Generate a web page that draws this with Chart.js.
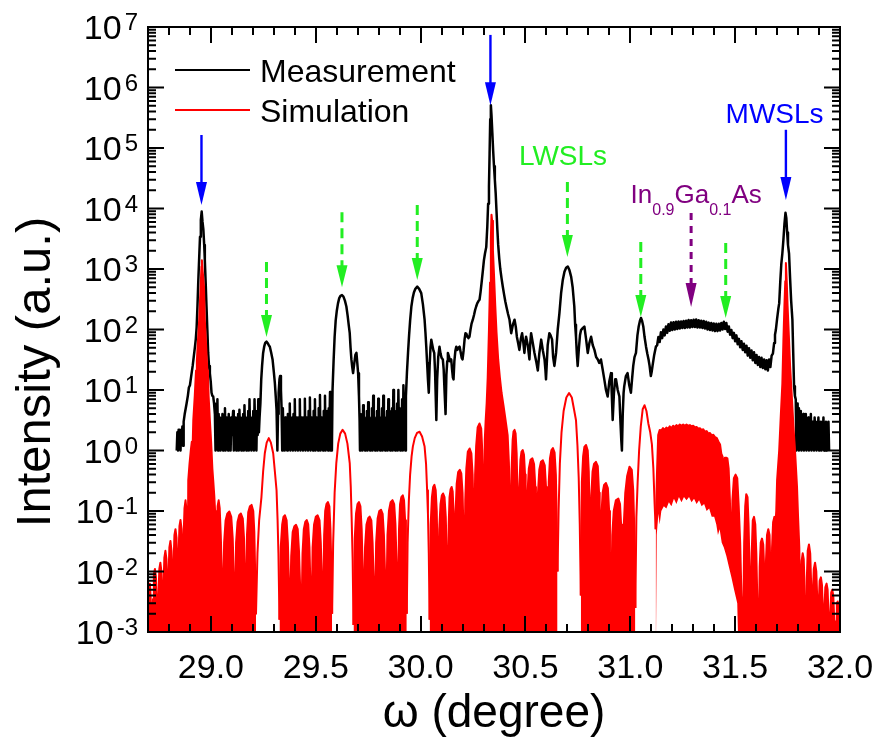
<!DOCTYPE html>
<html><head><meta charset="utf-8">
<script src="https://cdn.jsdelivr.net/npm/chart.js@4.4.1/dist/chart.umd.min.js"></script>
<style>html,body{margin:0;padding:0;background:#fff;}canvas{display:block;}</style>
</head><body>
<canvas id="chart" width="880" height="748"></canvas>
<script>
// ---------- DATA (omega in degree, intensity in a.u.) ----------
const measurement = [
[28.837,1],[28.840,2],[28.843,1],[28.846,2.2],[28.849,1.6],[28.852,2.2],[28.855,1],[28.858,2],[28.861,1.6],[28.864,2.5],[28.867,1.2],
[28.870,3],[28.875,4],[28.880,5],[28.884,6],[28.890,8],[28.895,11],[28.900,12],[28.906,17],[28.913,25],[28.918,35],[28.924,52],[28.928,70],[28.932,110],[28.936,250],[28.940,660],[28.944,1500],[28.948,3400],[28.952,6500],[28.956,8900],[28.960,6000],[28.964,4500],[28.968,2500],[28.971,1400],[28.975,600],[28.979,240],[28.983,100],[28.987,41],[28.991,25],[28.995,19],[28.999,14],[29.003,9],[29.007,8],[29.011,7.8],[29.015,6],[29.019,4],
[29.022,1],[29.025,5],[29.028,2],[29.031,7],[29.034,1],[29.037,4],[29.040,2],[29.043,3.5],[29.046,1],[29.049,3],[29.052,1.8],[29.055,4],[29.058,1],[29.061,3],[29.064,2],[29.067,5],[29.070,1],[29.073,3.5],[29.076,1.8],[29.079,3],[29.082,1],[29.085,4],[29.088,2],[29.091,3],[29.094,1],[29.097,3.5],[29.100,1.8],[29.103,3],[29.106,4.5],[29.109,1],[29.112,3],[29.115,2],[29.118,3.5],[29.121,1],[29.124,3],[29.127,1.8],[29.130,4],[29.133,1],[29.136,4.7],[29.139,2],[29.142,3.5],[29.145,1],[29.148,3],[29.151,1.8],[29.154,4],[29.157,1],[29.160,5.6],[29.163,2],[29.166,3.5],[29.169,1],[29.172,3],[29.175,1.8],[29.178,4.5],[29.181,1],[29.184,7],[29.187,2],[29.190,3.5],[29.193,1],[29.196,3],[29.199,1.8],[29.202,4.5],[29.205,1],[29.208,7],[29.211,2],[29.214,3.5],[29.217,1],[29.220,4.5],[29.223,1.8],[29.226,7],[29.229,2],[29.232,3.5],
[29.236,6],[29.240,15],[29.244,25],[29.249,41],[29.254,52],[29.259,60],[29.265,63],[29.270,60],[29.276,55],[29.281,52],[29.287,42],[29.294,32],[29.300,20],[29.305,13],[29.309,8],[29.313,4.7],
[29.317,1],[29.320,4],[29.323,9],[29.327,15],[29.330,17],[29.334,10],[29.337,5],
[29.340,1],[29.343,5],[29.346,2],[29.349,3],[29.352,1],[29.355,3.5],[29.358,1.8],[29.361,3],[29.364,1],[29.367,4],[29.370,2],[29.373,3.5],[29.376,6],[29.379,1],[29.382,3],[29.385,1.8],[29.388,3.5],[29.391,1],[29.394,4],[29.397,2],[29.400,7],[29.403,1],[29.406,3.5],[29.409,1.8],[29.412,3],[29.415,1],[29.418,3.5],[29.421,2],[29.424,7],[29.427,1],[29.430,3.5],[29.433,1.8],[29.436,3],[29.439,1],[29.442,3.5],[29.445,2],[29.448,7.2],[29.451,1],[29.454,3.5],[29.457,1.8],[29.460,3],[29.463,1],[29.466,4.5],[29.469,2],[29.472,7.5],[29.475,1],[29.478,3.5],[29.481,1.8],[29.484,3],[29.487,1],[29.490,4.5],[29.493,2],[29.496,7],[29.499,1],[29.502,3.5],[29.505,1.8],[29.508,3],[29.511,1],[29.514,5],[29.517,2],[29.520,8.3],[29.523,1],[29.526,3.5],[29.529,1.8],[29.532,3],[29.535,1],[29.538,4.5],[29.541,2],[29.544,8],[29.547,1],[29.550,3.5],[29.553,1.8],[29.556,4.5],[29.559,1],[29.562,5],[29.565,2],[29.568,9.3],[29.571,1],[29.574,4.5],[29.577,1],
[29.580,10],[29.585,30],[29.590,76],[29.595,140],[29.600,200],[29.606,270],[29.612,330],[29.618,360],[29.625,370],[29.632,350],[29.639,300],[29.646,240],[29.652,170],[29.657,120],[29.662,87],[29.666,50],[29.670,32],[29.674,24],[29.678,19],[29.684,28],[29.689,38],[29.694,41],[29.698,28],[29.702,19],[29.706,8],[29.709,3.2],
[29.711,1],[29.714,4],[29.717,2],[29.720,3.5],[29.723,1],[29.726,5.6],[29.729,1.8],[29.732,3.5],[29.735,1],[29.738,3],[29.741,2],[29.744,4.5],[29.747,1],[29.750,6.3],[29.753,1.8],[29.756,3.5],[29.759,1],[29.762,3],[29.765,2],[29.768,5],[29.771,1],[29.774,8],[29.777,1.8],[29.780,3.5],[29.783,1],[29.786,3],[29.789,2],[29.792,4.5],[29.795,1],[29.798,7.2],[29.801,1.8],[29.804,3.5],[29.807,1],[29.810,3.5],[29.813,2],[29.816,5],[29.819,1],[29.822,8],[29.825,1.8],[29.828,3.5],[29.831,1],[29.834,3],[29.837,2],[29.840,4.5],[29.843,1],[29.846,7],[29.849,1.8],[29.852,4.5],[29.855,1],[29.858,3.5],[29.861,2],[29.864,5],[29.867,1],[29.870,10],[29.873,1.8],[29.876,4.5],[29.879,1],[29.882,3.5],[29.885,2],[29.888,6],[29.891,1],[29.894,10],[29.897,2],[29.900,5],[29.903,1],[29.906,4.5],[29.909,2],[29.912,7],[29.915,1],[29.918,12],[29.921,3],[29.924,5],[29.927,1],
[29.930,8],[29.935,20],[29.940,41],[29.945,80],[29.950,140],[29.956,240],[29.962,330],[29.968,410],[29.975,470],[29.984,510],[29.993,470],[30.003,400],[30.011,260],[30.019,145],[30.023,90],[30.027,52],[30.031,28],[30.035,15],[30.039,9],[30.043,25],[30.047,50],[30.051,68],[30.056,55],[30.061,45],[30.065,41],[30.069,20],[30.072,8],[30.075,3.2],[30.079,15],[30.084,35],[30.090,52],[30.095,40],[30.100,34],[30.106,32],[30.110,22],[30.114,10],[30.119,4],[30.123,18],[30.127,30],[30.130,41],[30.135,36],[30.140,30],[30.146,32],[30.150,22],[30.154,16],[30.157,15],[30.161,30],[30.166,45],[30.170,52],[30.175,46],[30.180,50],[30.186,52],[30.191,42],[30.196,34],[30.200,32],[30.205,45],[30.210,70],[30.214,87],[30.218,85],[30.223,76],[30.228,72],[30.233,76],[30.238,100],[30.243,125],[30.249,145],[30.255,175],[30.260,210],[30.265,240],[30.270,270],[30.276,295],[30.281,310],[30.286,420],[30.291,600],[30.297,950],[30.302,1400],[30.307,1800],[30.313,2300],[30.318,5000],[30.322,12000],[30.326,23000],[30.329,80000],[30.332,300000],[30.335,510000],[30.338,350000],[30.342,180000],[30.346,90000],[30.350,50000],[30.354,30000],[30.358,18000],[30.362,9000],[30.366,4500],[30.370,2500],[30.375,1500],[30.380,1000],[30.386,700],[30.392,510],[30.398,380],[30.404,290],[30.410,230],[30.417,180],[30.424,145],
[30.432,87],[30.440,120],[30.448,145],[30.454,110],[30.459,76],[30.465,60],[30.471,46],[30.478,70],[30.484,87],[30.490,60],[30.495,41],[30.499,60],[30.503,76],[30.511,55],[30.519,32],[30.523,60],[30.527,87],[30.535,60],[30.543,41],[30.551,30],[30.559,21],[30.566,40],[30.575,68],[30.583,45],[30.591,32],[30.595,22],[30.598,15],[30.606,55],[30.614,87],[30.620,80],[30.627,68],[30.632,35],[30.638,25],[30.642,32],[30.646,41],[30.654,100],[30.662,186],[30.670,400],[30.678,660],[30.686,900],[30.694,1050],[30.702,1100],[30.710,950],[30.718,740],[30.725,500],[30.733,240],[30.737,120],[30.741,76],[30.745,40],[30.749,25],[30.755,50],[30.760,80],[30.765,98],[30.773,105],[30.781,112],[30.789,70],[30.797,41],[30.805,60],[30.813,76],[30.821,55],[30.829,46],[30.837,35],[30.845,32],[30.852,28],[30.860,32],[30.868,22],[30.876,15],[30.884,10],[30.892,7.8],[30.900,14],[30.908,19],[30.912,8],[30.916,3.2],[30.922,9],[30.928,15],[30.932,15],[30.940,10],[30.948,7.8],[30.953,3],[30.957,1.5],[30.960,1],[30.964,4],[30.968,9],[30.971,11.5],[30.979,17],[30.987,19],[30.995,12],[31.003,9],[31.009,16],[31.014,25],[31.020,35],[31.027,41],[31.034,80],[31.040,112],[31.046,140],[31.051,155],[31.056,140],[31.062,112],[31.068,75],[31.075,52],[31.081,40],[31.087,32],[31.092,25],[31.098,17],[31.102,20],[31.106,25],[31.114,38],[31.122,52],
[31.128,55],[31.134,75],[31.140,62],[31.146,90],[31.152,72],[31.158,100],[31.164,80],[31.170,112],[31.176,88],[31.182,122],[31.188,95],[31.194,130],[31.200,98],[31.206,132],[31.212,100],[31.218,134],[31.224,102],[31.230,136],[31.236,104],[31.242,136],[31.248,106],[31.254,138],[31.260,106],[31.266,140],[31.272,108],[31.278,144],[31.284,108],[31.290,142],[31.296,110],[31.302,145],[31.308,110],[31.314,146],[31.320,108],[31.326,142],[31.332,108],[31.338,140],[31.344,106],[31.350,138],[31.356,104],[31.362,134],[31.368,100],[31.374,130],[31.380,98],[31.386,128],[31.392,96],[31.398,126],[31.404,94],[31.410,124],[31.416,94],[31.422,124],[31.428,96],[31.434,128],[31.440,100],[31.446,134],[31.452,102],[31.458,128],[31.464,92],[31.470,112],[31.476,82],[31.482,98],[31.488,72],[31.494,88],[31.500,64],[31.506,80],[31.512,57],[31.518,70],[31.524,51],[31.530,64],[31.536,46],[31.542,58],[31.548,42],[31.554,54],[31.560,37],[31.566,49],[31.572,34],[31.578,45],[31.584,31],[31.590,42],[31.596,28],[31.602,38],[31.608,26],[31.614,35],[31.620,24],[31.626,34],[31.632,23],[31.638,32],[31.644,22],[31.650,31],[31.656,21],[31.662,32],[31.668,24],[31.674,37],[31.680,40],[31.686,60],[31.690,82],
[31.694,98],[31.700,150],[31.706,220],[31.710,270],[31.715,600],[31.720,1200],[31.725,1800],[31.730,3000],[31.735,5500],[31.740,8500],[31.744,7000],[31.748,4000],[31.752,2500],[31.757,1800],[31.762,700],[31.767,300],[31.773,145],[31.777,40],[31.781,11.5],[31.785,8],[31.789,7],
[31.792,1],[31.795,6],[31.798,2],[31.801,5],[31.804,1],[31.807,4.5],[31.810,2],[31.813,4.5],[31.816,1],[31.819,3.5],[31.822,1.8],[31.825,4],[31.828,1],[31.831,3.5],[31.834,1.8],[31.837,4],[31.840,1],[31.843,3],[31.846,1.8],[31.849,3.5],[31.852,1],[31.855,3],[31.858,1.8],[31.861,4],[31.864,1],[31.867,3],[31.870,1.8],[31.873,3],[31.876,1],[31.879,3.5],[31.882,1.8],[31.885,3],[31.888,1],[31.891,3],[31.894,1.8],[31.897,3.5],[31.900,1],[31.903,3],[31.906,1.7],[31.909,3],[31.912,1],[31.915,2.8],[31.918,1.7],[31.921,3.5],[31.924,1],[31.927,2.8],[31.930,1.7],[31.933,3],[31.936,1],[31.939,2.8],[31.942,1.6],[31.945,3],[31.948,1]
];

const simulation = [
[28.700,4e-3],[28.704,6.3e-3],[28.709,6.3e-3],[28.714,3e-3],[28.719,5e-4],
[28.724,3.5e-3],[28.728,9e-3],[28.733,0.011],[28.738,8e-3],[28.742,3e-3],[28.746,5e-4],
[28.750,4e-3],[28.754,0.011],[28.759,0.014],[28.764,0.01],[28.767,4e-3],[28.770,6e-4],
[28.774,6e-3],[28.778,0.017],[28.783,0.022],[28.788,0.016],[28.791,6e-3],[28.794,5e-4],
[28.798,9e-3],[28.802,0.025],[28.807,0.032],[28.812,0.022],[28.815,8e-3],[28.818,1e-3],
[28.822,0.014],[28.826,0.04],[28.831,0.05],[28.836,0.036],[28.839,0.012],[28.842,1e-3],
[28.846,0.02],[28.850,0.056],[28.855,0.071],[28.860,0.05],[28.863,0.018],[28.866,1.6e-3],
[28.870,0.04],[28.874,0.11],[28.879,0.15],[28.883,0.11],[28.886,0.05],[28.889,4e-3],
[28.892,0.32],[28.898,0.6],[28.904,1],[28.909,1.4],[28.912,0.9],[28.916,3.2],[28.923,8],[28.929,21],[28.933,30],[28.937,56],[28.944,145],[28.951,510],[28.955,1100],[28.957,1400],[28.961,900],[28.967,510],[28.971,145],[28.977,56],[28.983,21],[28.986,18],[28.989,8],[28.995,3.2],[29.000,1.6],[29.003,1],[29.007,0.5],[29.011,0.32],[29.016,0.18],[29.020,0.1],[29.023,0.02],[29.026,2e-3],
[29.029,0.05],[29.032,0.12],[29.037,0.15],[29.042,0.11],[29.047,0.04],[29.052,0.01],[29.057,1.3e-3],
[29.063,0.03],[29.070,0.07],[29.078,0.09],[29.088,0.098],[29.097,0.08],[29.104,0.035],[29.110,7e-3],[29.115,1e-3],
[29.120,0.03],[29.127,0.066],[29.135,0.085],[29.143,0.091],[29.152,0.075],[29.158,0.035],[29.163,7e-3],[29.167,1e-3],
[29.172,0.04],[29.178,0.095],[29.186,0.12],[29.194,0.126],[29.202,0.1],[29.207,0.045],[29.211,0.01],[29.215,2e-3],
[29.222,0.02],[29.230,0.07],[29.241,0.17],[29.249,0.45],[29.257,0.9],[29.266,1.35],[29.276,1.6],[29.286,1.35],[29.297,0.9],[29.305,0.45],[29.313,0.22],[29.318,0.07],[29.322,0.02],[29.327,1.6e-3],
[29.333,0.025],[29.340,0.06],[29.346,0.08],[29.353,0.085],[29.361,0.07],[29.367,0.03],[29.372,6e-3],[29.376,1.3e-3],
[29.383,0.018],[29.390,0.045],[29.398,0.056],[29.406,0.059],[29.414,0.05],[29.420,0.022],[29.426,5e-3],[29.431,1e-3],
[29.437,0.02],[29.443,0.05],[29.450,0.066],[29.457,0.071],[29.464,0.06],[29.470,0.025],[29.475,5e-3],[29.479,1e-3],
[29.485,0.025],[29.492,0.06],[29.500,0.08],[29.509,0.085],[29.518,0.07],[29.524,0.03],[29.530,6e-3],[29.534,1.3e-3],
[29.540,0.04],[29.545,0.1],[29.551,0.13],[29.558,0.141],[29.565,0.12],[29.570,0.05],[29.575,0.01],[29.578,2e-3],
[29.583,0.03],[29.590,0.2],[29.598,0.62],[29.607,1.3],[29.617,1.9],[29.628,2.2],[29.640,1.9],[29.651,1.3],[29.662,0.62],[29.667,0.25],[29.671,0.08],[29.676,0.015],[29.680,1.3e-3],
[29.686,0.035],[29.692,0.09],[29.699,0.13],[29.706,0.141],[29.713,0.12],[29.719,0.05],[29.724,0.01],[29.728,1e-3],
[29.735,0.025],[29.742,0.06],[29.750,0.076],[29.757,0.081],[29.765,0.07],[29.771,0.03],[29.777,6e-3],[29.781,1e-3],
[29.788,0.03],[29.795,0.075],[29.803,0.1],[29.811,0.105],[29.819,0.09],[29.825,0.04],[29.831,8e-3],[29.835,1e-3],
[29.842,0.04],[29.849,0.1],[29.857,0.14],[29.866,0.151],[29.874,0.13],[29.880,0.06],[29.886,0.012],[29.891,1.3e-3],
[29.897,0.05],[29.902,0.13],[29.908,0.17],[29.915,0.182],[29.921,0.15],[29.926,0.07],[29.930,0.015],[29.934,2e-3],
[29.938,0.03],[29.944,0.15],[29.950,0.4],[29.957,0.8],[29.963,1.16],[29.972,1.6],[29.983,1.95],[29.995,2.04],[30.007,1.7],[30.019,1.16],[30.026,0.6],[30.031,0.22],[30.035,0.09],[30.039,0.02],[30.043,1.6e-3],
[30.048,0.06],[30.054,0.17],[30.060,0.25],[30.066,0.27],[30.072,0.22],[30.077,0.1],[30.081,0.015],[30.084,1.3e-3],
[30.089,0.05],[30.095,0.13],[30.101,0.18],[30.107,0.195],[30.114,0.17],[30.120,0.08],[30.125,0.015],[30.129,1.6e-3],
[30.134,0.06],[30.138,0.17],[30.143,0.23],[30.148,0.25],[30.153,0.21],[30.157,0.1],[30.160,0.03],[30.162,8e-3],
[30.167,0.1],[30.172,0.28],[30.179,0.44],[30.187,0.48],[30.194,0.42],[30.200,0.2],[30.205,0.04],[30.209,8e-3],
[30.213,0.15],[30.218,0.5],[30.225,0.95],[30.234,1.08],[30.242,0.9],[30.248,0.4],[30.253,0.08],[30.256,0.025],
[30.260,0.4],[30.265,1.2],[30.272,2.4],[30.281,2.8],[30.289,2.3],[30.294,1],[30.298,0.25],[30.302,0.032],
[30.306,1.5],[30.310,3],[30.315,6],[30.320,16],[30.326,100],[30.331,600],[30.335,3200],[30.338,7900],[30.341,6300],[30.345,2000],[30.350,800],[30.356,250],[30.362,90],[30.370,32],[30.378,16],[30.386,9],[30.395,5.6],[30.405,3.2],[30.415,1.8],[30.421,0.63],[30.426,0.13],[30.430,0.016],
[30.434,0.5],[30.439,1.5],[30.443,2.05],[30.448,2.19],[30.453,1.9],[30.458,0.9],[30.462,0.2],[30.466,0.01],
[30.471,0.25],[30.476,0.7],[30.481,0.95],[30.487,1.02],[30.493,0.85],[30.498,0.4],[30.501,0.08],[30.504,6.3e-3],
[30.510,0.2],[30.516,0.5],[30.524,0.7],[30.533,0.74],[30.541,0.6],[30.547,0.25],[30.550,0.05],[30.553,2.5e-3],
[30.559,0.18],[30.566,0.48],[30.574,0.65],[30.583,0.69],[30.592,0.57],[30.598,0.25],[30.602,0.04],[30.606,1.3e-3],
[30.611,0.3],[30.617,0.75],[30.624,1.02],[30.631,1.1],[30.639,0.92],[30.645,0.4],[30.649,0.08],[30.653,0.01],
[30.658,0.1],[30.664,0.6],[30.672,2],[30.682,4.5],[30.695,7.5],[30.708,8.9],[30.721,7.5],[30.733,4.5],[30.741,3.16],[30.748,1.2],[30.754,0.35],[30.759,0.06],[30.764,4e-3],
[30.769,0.3],[30.775,0.8],[30.781,1.15],[30.789,1.23],[30.797,1.0],[30.802,0.45],[30.806,0.08],[30.809,2.5e-3],
[30.814,0.18],[30.820,0.45],[30.827,0.6],[30.836,0.65],[30.845,0.55],[30.851,0.2],[30.854,0.04],[30.857,1.3e-3],
[30.862,0.08],[30.868,0.2],[30.875,0.27],[30.884,0.29],[30.893,0.24],[30.899,0.1],[30.903,0.02],[30.907,1.3e-3],
[30.914,0.04],[30.921,0.1],[30.931,0.15],[30.943,0.16],[30.951,0.13],[30.956,0.06],[30.960,0.012],[30.963,2e-3],
[30.969,0.06],[30.976,0.2],[30.985,0.38],[30.996,0.54],[31.007,0.48],[31.014,0.22],[31.019,0.05],[31.024,2.5e-3],
[31.029,0.08],[31.035,0.3],[31.042,1],[31.050,2.5],[31.059,4.8],[31.068,5.6],[31.077,4.5],[31.086,2.8],[31.095,2],[31.103,1.26],[31.110,0.5],[31.116,0.13],[31.121,0.05],
[31.127,0.4],[31.133,1.8],[31.140,2.19],[31.148,2.14],[31.156,2.34],[31.164,2.19],[31.172,2.4],[31.180,2.29],[31.188,2.5],[31.196,2.34],[31.204,2.57],[31.212,2.45],[31.220,2.63],[31.228,2.5],[31.236,2.69],[31.244,2.57],[31.252,2.69],[31.260,2.57],[31.268,2.69],[31.276,2.57],[31.284,2.63],[31.292,2.5],[31.300,2.57],[31.308,2.4],[31.316,2.45],[31.324,2.29],[31.332,2.34],[31.340,2.19],[31.348,2.24],[31.356,2.04],[31.364,2.09],[31.372,1.9],[31.380,1.95],[31.388,1.78],[31.396,1.82],[31.404,1.66],[31.412,1.62],[31.420,1.41],[31.428,1.26],[31.434,0.89],[31.440,0.79],[31.446,0.5],
[31.451,0.76],[31.457,0.76],[31.463,0.74],[31.469,0.5],[31.475,0.15],[31.481,0.016],[31.487,0.15],[31.494,0.35],[31.502,0.4],[31.510,0.35],[31.517,0.12],[31.524,0.03],[31.530,4e-3],[31.538,1e-3],
[31.543,0.03],[31.548,0.12],[31.553,0.19],[31.559,0.17],[31.564,0.06],[31.569,0.01],[31.574,1.5e-3],
[31.579,0.02],[31.584,0.07],[31.590,0.08],[31.596,0.06],[31.601,0.02],[31.606,3e-3],[31.612,5e-4],
[31.617,0.012],[31.622,0.03],[31.628,0.035],[31.634,0.028],[31.639,0.01],[31.643,8e-4],
[31.647,0.015],[31.652,0.04],[31.658,0.05],[31.664,0.04],[31.668,0.012],[31.672,1e-3],
[31.676,0.025],[31.681,0.065],[31.687,0.08],[31.692,0.06],[31.696,0.1],
[31.700,0.32],[31.710,1],[31.718,4],[31.725,12.6],[31.730,63],[31.735,250],[31.739,630],[31.742,1260],[31.746,630],[31.750,250],[31.756,80],[31.762,25],[31.770,8],[31.778,2.5],[31.787,0.8],[31.795,0.25],[31.800,0.08],[31.806,0.025],[31.810,1e-3],
[31.813,6e-3],[31.817,0.015],[31.822,0.02],[31.827,0.016],[31.831,6e-3],[31.838,8e-4],
[31.842,8e-3],[31.846,0.022],[31.852,0.028],[31.858,0.02],[31.862,7e-3],[31.867,8e-4],
[31.871,5e-3],[31.875,0.011],[31.881,0.014],[31.887,0.01],[31.891,4e-3],[31.895,8e-4],
[31.899,3e-3],[31.903,7e-3],[31.909,8e-3],[31.914,6e-3],[31.918,2.5e-3],[31.922,8e-4],
[31.926,2.5e-3],[31.930,5.5e-3],[31.936,6.3e-3],[31.941,5e-3],[31.945,2e-3],[31.950,8e-4],
[31.954,2e-3],[31.958,4.5e-3],[31.963,5e-3],[31.968,4e-3],[31.972,1.8e-3],[31.977,8e-4],
[31.981,1.5e-3],[31.985,3e-3],[31.989,3.2e-3],[31.993,2.5e-3],[31.998,8e-4]
];

// lower edge of the dense simulated fringe band (the band is shaded between the two)
const simulationBase = [
[28.700,1e-4],[31.121,1e-4],[31.126,0.04],[31.134,0.09],[31.140,0.06],[31.148,0.1],[31.160,0.12],[31.172,0.11],[31.184,0.14],[31.196,0.12],[31.208,0.16],[31.220,0.13],[31.232,0.17],[31.244,0.14],[31.256,0.17],[31.268,0.15],[31.280,0.17],[31.292,0.14],[31.304,0.16],[31.316,0.13],[31.328,0.15],[31.340,0.12],[31.352,0.13],[31.364,0.1],[31.376,0.11],[31.388,0.08],[31.400,0.08],[31.410,0.06],[31.418,0.04],[31.426,0.05],[31.436,0.03],[31.446,0.025],[31.458,0.018],[31.470,0.012],[31.482,0.008],[31.495,0.005],[31.510,0.003],[31.520,1e-4],[32.000,1e-4]
];
// omega ranges where the simulated curve is a single smooth satellite peak (drawn as an outline, not a fringe band)
const simSmoothRanges = [[29.215,29.327],[29.578,29.680],[29.934,30.043],[30.653,30.764],[31.024,31.121]];

const xTickValues = [29.0, 29.5, 30.0, 30.5, 31.0, 31.5, 32.0];
const xTickLabels = ['29.0', '29.5', '30.0', '30.5', '31.0', '31.5', '32.0'];
const yTickExponents = [-3, -2, -1, 0, 1, 2, 3, 4, 5, 6, 7];

// peak markers (omega, arrow start intensity, arrow tip intensity)
const mwslPeaks = [28.955, 30.333, 31.742];
const mwslArrowTop = [1.64e5, 7.4e6, 2.0e5];
const mwslArrowTip = [1.14e4, 5.1e5, 1.38e4];
const lwslPeaks = [29.265, 29.625, 29.984, 30.700, 31.050, 31.455];
const lwslArrowTop = [1306, 8700, 11400, 27500, 2800, 2700];
const lwslArrowTip = [75, 500, 660, 1580, 161, 155];
const alloyPeak = [31.290];
const alloyArrowTop = [8400];
const alloyArrowTip = [235];

// ---------- CHART ----------
const FONT = '"Liberation Sans", Arial, Helvetica, sans-serif';
const RED = '#ff0000';
const toXY = arr => arr.map(p => ({x: p[0], y: p[1]}));
const inSmooth = (a, b) => simSmoothRanges.some(r => a >= r[0] - 1e-9 && b <= r[1] + 1e-9);

function arrow(ctx, px, yTop, yTip, color, dash, lw, headLen, headHalf) {
  ctx.save();
  ctx.strokeStyle = color; ctx.fillStyle = color; ctx.lineWidth = lw;
  ctx.setLineDash(dash);
  ctx.beginPath(); ctx.moveTo(px, yTop); ctx.lineTo(px, yTip - headLen + 1); ctx.stroke();
  ctx.setLineDash([]);
  ctx.beginPath();
  ctx.moveTo(px - headHalf, yTip - headLen);
  ctx.lineTo(px + headHalf, yTip - headLen);
  ctx.lineTo(px, yTip);
  ctx.closePath(); ctx.fill();
  ctx.restore();
}

const decorations = {
  id: 'decorations',
  beforeDraw(chart) {
    const {ctx, width, height} = chart;
    ctx.save(); ctx.fillStyle = '#fff'; ctx.fillRect(0, 0, width, height); ctx.restore();
  },
  afterDatasetsDraw(chart) {
    const {ctx, chartArea: a, scales: {x, y}} = chart;
    ctx.save();
    mwslPeaks.forEach((v, i) => arrow(ctx, x.getPixelForValue(v), y.getPixelForValue(mwslArrowTop[i]), y.getPixelForValue(mwslArrowTip[i]), '#0000ff', [], 2.4, 23, 5.5));
    lwslPeaks.forEach((v, i) => arrow(ctx, x.getPixelForValue(v), y.getPixelForValue(lwslArrowTop[i]), y.getPixelForValue(lwslArrowTip[i]), '#22ee22', [10, 6], 3, 22, 5.5));
    alloyPeak.forEach((v, i) => arrow(ctx, x.getPixelForValue(v), y.getPixelForValue(alloyArrowTop[i]), y.getPixelForValue(alloyArrowTip[i]), '#800080', [7, 6], 3, 24, 5.5));

    ctx.textBaseline = 'alphabetic';
    ctx.font = '28px ' + FONT; ctx.textAlign = 'center';
    ctx.fillStyle = '#0000ff';
    ctx.fillText('MWSLs', x.getPixelForValue(31.688), y.getPixelForValue(2.6e5));
    ctx.fillStyle = '#22ee22';
    ctx.fillText('LWSLs', x.getPixelForValue(30.679), y.getPixelForValue(5.24e4));
    const parts = [['In', 0], ['0.9', 1], ['Ga', 0], ['0.1', 1], ['As', 0]];
    const bigF = '26px ' + FONT, subF = '16px ' + FONT;
    let total = 0;
    parts.forEach(p => { ctx.font = p[1] ? subF : bigF; total += ctx.measureText(p[0]).width; });
    let cx = x.getPixelForValue(31.314) - total / 2;
    const by = y.getPixelForValue(1.23e4);
    ctx.fillStyle = '#800080'; ctx.textAlign = 'left';
    parts.forEach(p => { ctx.font = p[1] ? subF : bigF; ctx.fillText(p[0], cx, by + (p[1] ? 12 : 0)); cx += ctx.measureText(p[0]).width; });

    ctx.strokeStyle = '#000'; ctx.lineWidth = 2;
    ctx.strokeRect(a.left, a.top, a.right - a.left, a.bottom - a.top);
    ctx.beginPath();
    for (let i = 287; i <= 320; i++) {
      const px = Math.round(x.getPixelForValue(i / 10));
      const len = (i % 5 === 0) ? 16 : 8;
      ctx.moveTo(px, a.bottom); ctx.lineTo(px, a.bottom - len);
      ctx.moveTo(px, a.top); ctx.lineTo(px, a.top + len);
    }
    for (let d = -3; d <= 7; d++) {
      const py = y.getPixelForValue(Math.pow(10, d));
      ctx.moveTo(a.left, py); ctx.lineTo(a.left + 16, py);
      ctx.moveTo(a.right, py); ctx.lineTo(a.right - 16, py);
      if (d < 7) for (let m = 2; m <= 9; m++) {
        const pm = y.getPixelForValue(m * Math.pow(10, d));
        ctx.moveTo(a.left, pm); ctx.lineTo(a.left + 8, pm);
        ctx.moveTo(a.right, pm); ctx.lineTo(a.right - 8, pm);
      }
    }
    ctx.stroke();

    ctx.fillStyle = '#000'; ctx.font = '34px ' + FONT; ctx.textAlign = 'center'; ctx.textBaseline = 'alphabetic';
    xTickValues.forEach((v, i) => ctx.fillText(xTickLabels[i], x.getPixelForValue(v), 678));
    yTickExponents.forEach(e => {
      const py = y.getPixelForValue(Math.pow(10, e));
      ctx.font = '24px ' + FONT; ctx.textAlign = 'right';
      const es = String(e);
      const ew = ctx.measureText(es).width;
      ctx.fillText(es, 138, py + 3);
      ctx.font = '34px ' + FONT;
      ctx.fillText('10', 138 - ew - 3, py + 12);
    });
    ctx.font = '46px ' + FONT; ctx.textAlign = 'center';
    ctx.fillText('\u03c9 (degree)', (a.left + a.right) / 2, 727);
    ctx.save();
    ctx.translate(50, 372); ctx.rotate(-Math.PI / 2);
    ctx.font = '49px ' + FONT;
    ctx.fillText('Intensity (a.u.)', 0, 0);
    ctx.restore();

    const ds = chart.data.datasets;
    [[1, 70], [0, 110]].forEach(([idx, ly]) => {
      ctx.strokeStyle = ds[idx].borderColor; ctx.lineWidth = 2;
      ctx.beginPath(); ctx.moveTo(175, ly); ctx.lineTo(250, ly); ctx.stroke();
      ctx.fillStyle = '#000'; ctx.font = '32px ' + FONT; ctx.textAlign = 'left';
      ctx.fillText(ds[idx].label, 260, ly + 12);
    });
    ctx.restore();
  }
};

new Chart(document.getElementById('chart'), {
  type: 'line',
  data: {
    datasets: [
      {label: 'Simulation', data: toXY(simulation), borderColor: RED, backgroundColor: RED,
       borderWidth: 2, pointRadius: 0, fill: 2, order: 0, tension: 0, borderJoinStyle: 'round',
       segment: {backgroundColor: c => inSmooth(c.p0.parsed.x, c.p1.parsed.x) ? 'rgba(255,255,255,0)' : RED}},
      {label: 'Measurement', data: toXY(measurement), borderColor: '#000000', backgroundColor: '#000000',
       borderWidth: 2.5, pointRadius: 0, fill: false, order: 1, tension: 0, borderJoinStyle: 'round'},
      {label: 'band', data: toXY(simulationBase), borderColor: 'rgba(0,0,0,0)', backgroundColor: 'rgba(0,0,0,0)',
       showLine: false, pointRadius: 0, fill: false, order: 2}
    ]
  },
  options: {
    responsive: false, animation: false, devicePixelRatio: 1,
    layout: {padding: {left: 148, right: 40, top: 27, bottom: 116}},
    plugins: {legend: {display: false}, tooltip: {enabled: false}},
    scales: {
      x: {type: 'linear', min: 28.7, max: 32.0, display: false},
      y: {type: 'logarithmic', min: 1e-3, max: 1e7, display: false}
    }
  },
  plugins: [decorations]
});
</script>
</body></html>
